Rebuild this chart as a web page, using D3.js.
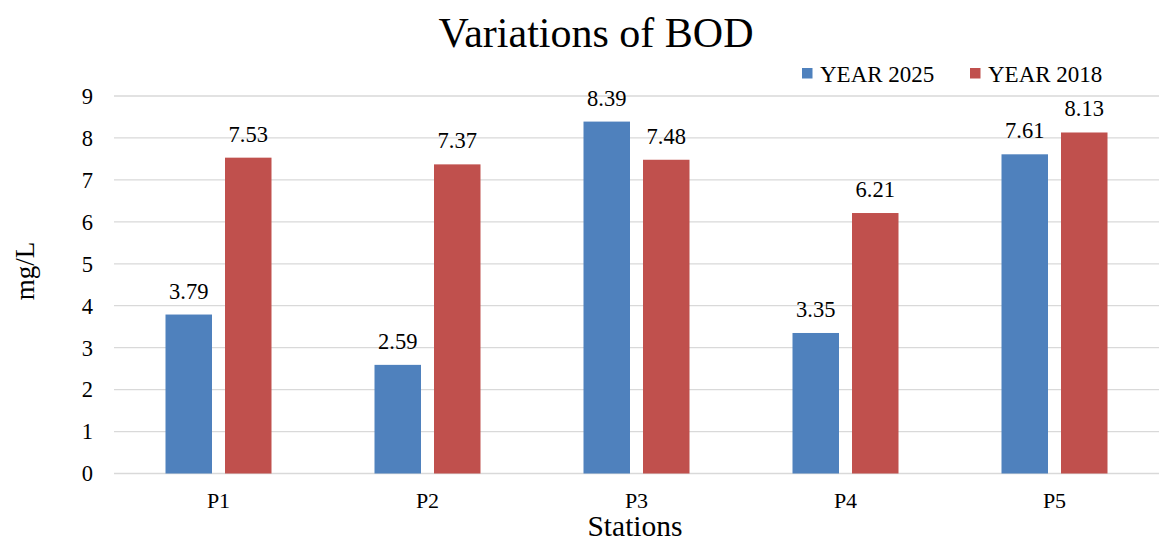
<!DOCTYPE html>
<html>
<head>
<meta charset="utf-8">
<script src="https://cdn.jsdelivr.net/npm/d3@7"></script>
<style>
  body { margin: 0; background: #fff; }
  svg text { font-family: "Liberation Serif", "Times New Roman", serif; }
</style>
</head>
<body>
<div id="chart"></div>
<script>
const stations = ['P1', 'P2', 'P3', 'P4', 'P5'];
const seriesNames = ['YEAR 2025', 'YEAR 2018'];
const year2025 = [3.79, 2.59, 8.39, 3.35, 7.61];
const year2018 = [7.53, 7.37, 7.48, 6.21, 8.13];
const yTicks = [0, 1, 2, 3, 4, 5, 6, 7, 8, 9];
const colors = ['#4F81BD', '#C0504D'];

const width = 1159, height = 542;
const plot = { left: 114, right: 1159, top: 96, bottom: 473.5 };
const serif = 'Liberation Serif';

const svg = d3.select('#chart').append('svg')
    .attr('width', width)
    .attr('height', height);

const x = d3.scaleBand().domain(stations).range([plot.left, plot.right]);
const y = d3.scaleLinear().domain([0, 9]).range([plot.bottom, plot.top]);
const barW = 46.5, gap = 13;

// gridlines
svg.append('g')
    .selectAll('line')
    .data(yTicks)
    .enter()
    .append('line')
    .attr('x1', plot.left)
    .attr('x2', plot.right)
    .attr('y1', d => y(d))
    .attr('y2', d => y(d))
    .attr('stroke', '#d9d9d9')
    .attr('stroke-width', 1.3);

// y tick labels
svg.append('g')
    .selectAll('text')
    .data(yTicks)
    .enter()
    .append('text')
    .attr('x', 93)
    .attr('y', d => y(d))
    .attr('dy', '0.35em')
    .attr('text-anchor', 'end')
    .attr('font-family', serif)
    .attr('font-size', 22.5)
    .text(d => d);

// bars + value labels
const series = [year2025, year2018];
series.forEach((vals, si) => {
    const offset = si === 0 ? -gap / 2 - barW : gap / 2;
    const g = svg.append('g');
    g.selectAll('rect')
        .data(vals)
        .enter()
        .append('rect')
        .attr('x', (d, i) => x(stations[i]) + x.bandwidth() / 2 + offset)
        .attr('y', d => y(d))
        .attr('width', barW)
        .attr('height', d => y(0) - y(d))
        .attr('fill', colors[si]);
    g.selectAll('text')
        .data(vals)
        .enter()
        .append('text')
        .attr('x', (d, i) => x(stations[i]) + x.bandwidth() / 2 + offset + barW / 2)
        .attr('y', d => y(d) - 16)
        .attr('text-anchor', 'middle')
        .attr('font-family', serif)
        .attr('font-size', 22.5)
        .text(d => d.toFixed(2));
});

// x category labels
svg.append('g')
    .selectAll('text')
    .data(stations)
    .enter()
    .append('text')
    .attr('x', d => x(d) + x.bandwidth() / 2)
    .attr('y', 508)
    .attr('text-anchor', 'middle')
    .attr('font-family', serif)
    .attr('font-size', 22)
    .text(d => d);

// title
svg.append('text')
    .attr('x', 596)
    .attr('y', 47)
    .attr('text-anchor', 'middle')
    .attr('font-family', serif)
    .attr('font-size', 42)
    .text('Variations of BOD');

// axis titles
svg.append('text')
    .attr('transform', 'translate(34, 271) rotate(-90)')
    .attr('text-anchor', 'middle')
    .attr('font-family', serif)
    .attr('font-size', 27)
    .text('mg/L');

svg.append('text')
    .attr('x', 635)
    .attr('y', 536)
    .attr('text-anchor', 'middle')
    .attr('font-family', serif)
    .attr('font-size', 29.5)
    .text('Stations');

// legend
const legendX = [802, 970];
seriesNames.forEach((name, i) => {
    svg.append('rect')
        .attr('x', legendX[i])
        .attr('y', 68)
        .attr('width', 10.5)
        .attr('height', 10.5)
        .attr('fill', colors[i]);
    svg.append('text')
        .attr('x', legendX[i] + 18)
        .attr('y', 82)
        .attr('font-family', serif)
        .attr('font-size', 23)
        .text(name);
});
</script>
</body>
</html>
